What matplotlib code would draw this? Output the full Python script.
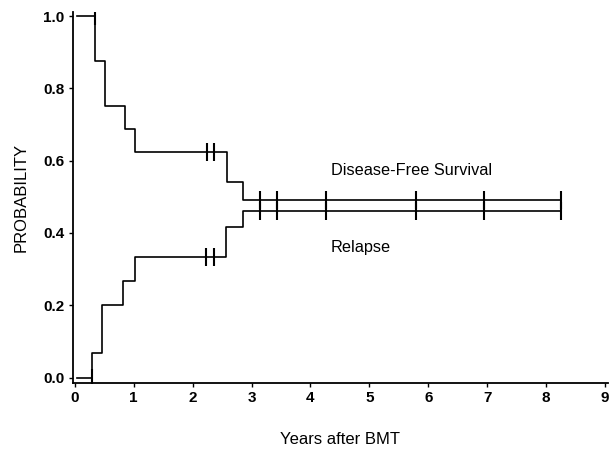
import matplotlib
matplotlib.use("Agg")
import matplotlib.pyplot as plt
import numpy as np

plt.rcParams['font.family'] = ['Liberation Sans', 'DejaVu Sans']

# Kaplan-Meier step estimates (years after BMT)
dfs_times = [0.03, 0.34, 0.52, 0.85, 1.03, 2.59, 2.86, 8.25]
dfs_prob = [1.0, 0.875, 0.75, 0.6875, 0.625, 0.5417, 0.49, 0.49]

relapse_times = [0.03, 0.29, 0.47, 0.82, 1.02, 2.57, 2.85, 8.25]
relapse_prob = [0.0, 0.0667, 0.2, 0.267, 0.333, 0.416, 0.46, 0.46]

# censored observations
dfs_censor = [0.34, 2.24, 2.37, 3.14, 3.44, 4.27, 5.8, 6.95, 8.25]
relapse_censor = [0.29, 2.22, 2.36, 3.14, 3.44, 4.27, 5.8, 6.95, 8.25]

xticks = [0, 1, 2, 3, 4, 5, 6, 7, 8, 9]
yticks = [0.0, 0.2, 0.4, 0.6, 0.8, 1.0]


def step_value(times, probs, t):
    # value of the step curve just before a drop/rise at t
    idx = np.searchsorted(times, t, side='left') - 1
    idx = max(idx, 0)
    return probs[idx]


fig = plt.figure(figsize=(6.12, 4.49), dpi=100)
ax = fig.add_axes([0.1193, 0.147, 0.874, 0.826])

for times, probs, cens in [(dfs_times, dfs_prob, dfs_censor),
                           (relapse_times, relapse_prob, relapse_censor)]:
    ax.plot(times, probs, drawstyle='steps-post', color='black', lw=1.2)
    cy = [step_value(times, probs, t) for t in cens]
    ax.plot(cens, cy, linestyle='none', marker='|', markersize=13,
            markeredgewidth=1.5, color='black')

ax.text(4.35, 0.574, "Disease-Free Survival", fontsize=11.7, va='center')
ax.text(4.35, 0.361, "Relapse", fontsize=11.7, va='center')

ax.set_xlim(-0.03, 9.05)
ax.set_ylim(-0.015, 1.011)
ax.set_xticks(xticks)
ax.set_yticks(yticks)
ax.set_yticklabels(["%.1f" % v for v in yticks])
ax.tick_params(direction='out', length=3, width=1, labelsize=11, pad=3)
for lab in ax.get_xticklabels() + ax.get_yticklabels():
    lab.set_fontweight('bold')

ax.spines['top'].set_visible(False)
ax.spines['right'].set_visible(False)
ax.spines['left'].set_linewidth(1.3)
ax.spines['bottom'].set_linewidth(1.3)

ax.set_xlabel("Years after BMT", fontsize=12, labelpad=19)
ax.set_ylabel("PROBABILITY", fontsize=12, labelpad=11)

fig.savefig("out.png", dpi=100)
